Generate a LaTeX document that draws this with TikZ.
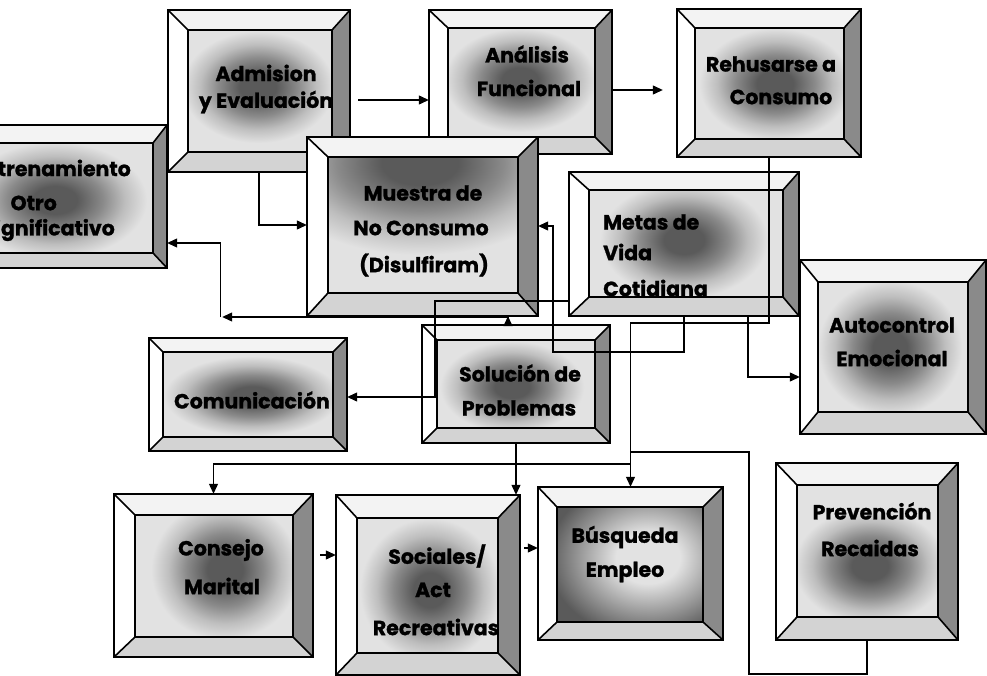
\documentclass[tikz,border=0pt]{standalone}
\usepackage{fontspec}
\setmainfont{Poppins}[BoldFeatures={FakeBold=1.2}]
\usetikzlibrary{arrows.meta,fit,calc}

\definecolor{facecol}{HTML}{E2E2E2}
\definecolor{topcol}{HTML}{F3F3F3}
\definecolor{botcol}{HTML}{D3D3D3}
\definecolor{sidecol}{HTML}{8A8A8A}
\definecolor{blobcol}{HTML}{5A5A5A}
\definecolor{blobmid}{HTML}{8A8A8A}
\definecolor{blobout}{HTML}{BEBEBE}
\definecolor{darkface}{HTML}{5A5A5A}

% soft dark patch: dark core, gradual fade to the face colour
\pgfdeclareradialshading{blobshade}{\pgfpoint{0bp}{0bp}}{%
  color(0bp)=(blobcol); color(6bp)=(blobcol); color(13bp)=(blobmid);
  color(19bp)=(blobout); color(25bp)=(facecol); color(50bp)=(facecol)}
% light patch on a dark face
\pgfdeclareradialshading{glowshade}{\pgfpoint{0bp}{0bp}}{%
  color(0bp)=(facecol); color(8bp)=(facecol); color(25bp)=(darkface); color(50bp)=(darkface)}

\tikzset{
  boxline/.style={line width=1.6pt, line join=miter},
  link/.style={line width=1.2pt},
  arr/.style={link, -{Triangle[length=10pt,width=9pt]}},
  lbl/.style={font=\fontsize{20.5}{22}\selectfont\bfseries, text=black, inner sep=0pt},
}

% bevelled frame: name, outer corners, inner corners
\newcommand\boxbase[9]{%
  \coordinate (#1-o1) at (#2,#3);
  \coordinate (#1-o2) at (#4,#5);
  \coordinate (#1-i1) at (#6,#7);
  \coordinate (#1-i2) at (#8,#9);
  \node[fit=(#1-o1)(#1-o2), inner sep=0pt] (#1) {};
  \fill[white] (#1-o1) -- (#1-i1) -- (#1-i1 |- #1-i2) -- (#1-o1 |- #1-o2) -- cycle;
  \fill[topcol] (#1-o1) -- (#1-o2 |- #1-o1) -- (#1-i2 |- #1-i1) -- (#1-i1) -- cycle;
  \fill[sidecol] (#1-o2 |- #1-o1) -- (#1-o2) -- (#1-i2) -- (#1-i2 |- #1-i1) -- cycle;
  \fill[botcol] (#1-o1 |- #1-o2) -- (#1-o2) -- (#1-i2) -- (#1-i1 |- #1-i2) -- cycle;
  \fill[facecol] (#1-i1) rectangle (#1-i2);
}
% shaded patch on the face: name, centre x, centre y, radius x, radius y, shading
\newcommand\boxblob[6]{%
  \begin{scope}
    \clip (#1-i1) rectangle (#1-i2);
    \shade[shading=#6] ({#2-#4},{#3-#5}) rectangle ({#2+#4},{#3+#5});
  \end{scope}
}
\newcommand\boxedge[1]{%
  \draw[boxline] (#1-o1) rectangle (#1-o2);
  \draw[boxline] (#1-i1) rectangle (#1-i2);
  \draw[boxline] (#1-o1) -- (#1-i1)
                 (#1-o2 |- #1-o1) -- (#1-i2 |- #1-i1)
                 (#1-o2) -- (#1-i2)
                 (#1-o1 |- #1-o2) -- (#1-i1 |- #1-i2);
}

\begin{document}
\begin{tikzpicture}[x=1pt, y=-1pt]
\useasboundingbox (0,0) rectangle (987,676);
\fill[white] (0,0) rectangle (987,676);
\clip (0,0) rectangle (987,676);

% ---- Entrenamiento
\boxbase{ent}{-70}{125}{167}{268}{-52}{143}{153}{253}
\boxblob{ent}{55}{200}{92}{58}{blobshade}
\boxedge{ent}
\node[lbl, anchor=east] (ent-t1) at (131,168) {Entrenamiento};
\node[lbl, anchor=east] (ent-t2) at (57,203) {Otro};
\node[lbl, anchor=east] (ent-t3) at (115,230) {Significativo};

% ---- Admision
\boxbase{adm}{168}{10}{350}{172}{188}{30}{332}{152}
\boxblob{adm}{258}{87}{76}{56}{blobshade}
\boxedge{adm}
\node[lbl] (adm-t1) at (266,73) {Admision};
\node[lbl] (adm-t2) at (266,102) {y Evaluación};

% ---- Analisis
\boxbase{ana}{429}{10}{612}{154}{448}{28}{595}{137}
\boxblob{ana}{520}{80}{76}{52}{blobshade}
\boxedge{ana}
\node[lbl] (ana-t1) at (527,54) {Análisis};
\node[lbl] (ana-t2) at (529,88) {Funcional};

% ---- Rehusarse
\boxbase{reh}{677}{9}{861}{157}{695}{28}{844}{139}
\boxblob{reh}{775}{84}{76}{56}{blobshade}
\boxedge{reh}
\node[lbl] (reh-t1) at (771,64) {Rehusarse a};
\node[lbl] (reh-t2) at (781,97) {Consumo};

% ---- Muestra
\boxbase{mue}{307}{137}{538}{316}{328}{157}{518}{293}
\boxblob{mue}{420}{163}{160}{92}{blobshade}
\boxedge{mue}
\node[lbl] (mue-t1) at (423,193) {Muestra de};
\node[lbl] (mue-t2) at (421,228) {No Consumo};
\node[lbl] (mue-t3) at (424,265) {(Disulfiram)};

% ---- Metas
\boxbase{met}{569}{172}{799}{316}{589}{190}{783}{297}
\boxblob{met}{684}{240}{84}{58}{blobshade}
\boxedge{met}
\node[lbl, anchor=west] (met-t1) at (603,222) {Metas de};
\node[lbl, anchor=west] (met-t2) at (603,252) {Vida};
\node[lbl, anchor=west] (met-t3) at (603,288) {Cotidiana};

% ---- Autocontrol
\boxbase{aut}{800}{260}{986}{434}{818}{282}{968}{412}
\boxblob{aut}{890}{348}{72}{68}{blobshade}
\boxedge{aut}
\node[lbl] (aut-t1) at (892,325) {Autocontrol};
\node[lbl] (aut-t2) at (892,358) {Emocional};

% ---- Comunicacion
\boxbase{com}{149}{338}{347}{451}{163}{352}{333}{437}
\boxblob{com}{252}{396}{88}{40}{blobshade}
\boxedge{com}
\node[lbl] (com-t1) at (252,400) {Comunicación};

% ---- Solucion
\boxbase{sol}{422}{325}{610}{443}{437}{340}{595}{428}
\boxblob{sol}{512}{387}{72}{46}{blobshade}
\boxedge{sol}
\node[lbl] (sol-t1) at (520,373) {Solución de};
\node[lbl] (sol-t2) at (519,408) {Problemas};

% ---- Consejo
\boxbase{con}{114}{494}{313}{657}{135}{515}{293}{637}
\boxblob{con}{225}{570}{74}{70}{blobshade}
\boxedge{con}
\node[lbl] (con-t1) at (221,550) {Consejo};
\node[lbl] (con-t2) at (222,586) {Marital};

% ---- Sociales
\boxbase{soc}{336}{495}{520}{675}{357}{518}{498}{653}
\boxblob{soc}{430}{590}{70}{72}{blobshade}
\boxedge{soc}
\node[lbl] (soc-t1) at (437,556) {Sociales/};
\node[lbl] (soc-t2) at (433,590) {Act};
\node[lbl] (soc-t3) at (436,627) {Recreativas};

% ---- Busqueda
\boxbase{bus}{538}{487}{723}{640}{557}{507}{703}{622}
\boxblob{bus}{648}{558}{100}{80}{glowshade}
\boxedge{bus}
\node[lbl] (bus-t1) at (625,537) {Búsqueda};
\node[lbl] (bus-t2) at (625,572) {Empleo};

% ---- Prevencion
\boxbase{pre}{776}{463}{958}{640}{797}{485}{938}{617}
\boxblob{pre}{870}{566}{76}{58}{blobshade}
\boxedge{pre}
\node[lbl] (pre-t1) at (872,511) {Prevención};
\node[lbl] (pre-t2) at (870,548) {Recaidas};

% ---- connectors
\draw[arr] ($(adm.east |- 0,100)+(8,0)$) -- (ana.west |- 0,100);
\draw[arr] (ana.east |- 0,90) -- ($(reh.west |- 0,90)+(-14,0)$);
\draw[arr] (adm.south) |- (mue.west |- 0,225);
\draw[arr] (met.west |- 0,301) -| (435,397) -- (com.east |- 0,397);
\draw[arr] (met.south) -- (met.south |- 0,352) -| (553,226) -- (mue.east |- 0,226);
\draw[arr] (reh.south) |- (bus.north |- 0,323) -- (bus.north);
\coordinate (j1) at (bus.north |- 0,452);
\coordinate (j2) at (bus.north |- 0,464);
\draw[link] (pre.south) -- (pre.south |- 0,674) -| (749,452) -- (j1);
\draw[arr] (met.south -| 748,0) |- (aut.west |- 0,377);
\draw[arr] (sol.south) -- (soc.north -| sol.south);
\draw[arr] (sol.south |- 0,464) -| (con.north);
\draw[link] (sol.south |- 0,464) -- (j2);
\draw[arr] ($(con.east |- 0,555)+(7,0)$) -- (soc.west |- 0,555);
\draw[arr] ($(soc.east |- 0,548)+(4,0)$) -- (bus.west |- 0,548);
\draw[arr] (sol.north -| 508,0) -- (mue.south -| 508,0);
\draw[arr] (sol.north -| 508,0) |- ($(ent.east |- 0,317)+(55,0)$);
\draw[arr] ($(ent.east |- 0,317)+(53,0)$) |- (ent.east |- 0,243);
\end{tikzpicture}
\end{document}
